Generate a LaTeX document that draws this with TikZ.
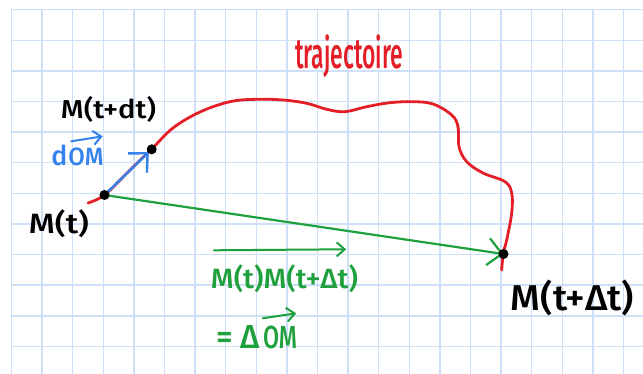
\documentclass[tikz,border=0pt]{standalone}
\usepackage{fontspec}
\setmainfont{Fira Sans}[BoldFont={Fira Sans Medium}]
\usepackage{graphicx}
\usetikzlibrary{arrows.meta,calc}
\definecolor{gridc}{RGB}{205,224,248}
\definecolor{hred}{RGB}{228,30,38}
\definecolor{hblue}{RGB}{52,130,235}
\definecolor{hgreen}{RGB}{30,160,60}
\newcommand{\hw}[3]{\resizebox*{#1pt}{#2pt}{\bfseries #3}}
\begin{document}
\begin{tikzpicture}[x=1pt,y=-1pt, line cap=round, line join=round,
 lbl/.style={inner sep=0pt, anchor=center},
 gridline/.style={draw=gridc, line width=1.4pt},
 dotnode/.style={circle, fill=black, inner sep=0pt, minimum size=10pt},
 bigtip/.style={-{Straight Barb[length=14pt,width=27pt]}},
 smalltip/.style={-{Straight Barb[length=8pt,width=14pt]}},
]
\useasboundingbox[fill=white] (0,0) rectangle (643,374);
\foreach \k in {0,...,20} \draw[gridline] (11.5+30.6*\k,9.8) -- (11.5+30.6*\k,374);
\foreach \k in {0,...,11} \draw[gridline] (11.5,9.8+30.6*\k) -- (643,9.8+30.6*\k);

% trajectory
\draw[hred, line width=2.8pt] plot[smooth, tension=0.6] coordinates {(88,203) (104.5,195) (128,172) (151.7,149) (173,128) (200,112) (230,101.7) (256.7,99.3) (283,100) (306.7,103.3) (326.7,109.3) (345,111.7) (366.7,106.7) (390,102.7) (413,101.7) (433,104) (451.7,115) (458,126.7) (459,146.7) (466.7,161.7) (483,173) (505,181.7) (511.7,193) (511.7,213) (506.7,240) (503.3,253.3) (501.7,270)};

% points
\coordinate (Mt) at (104.5,195);
\coordinate (Mdt) at (151.7,149.3);
\coordinate (MDt) at (503.5,254);
\draw[hgreen, line width=2.2pt, bigtip] (Mt) -- (MDt);
\draw[hblue, line width=2.4pt, bigtip, shorten >=4pt] (Mt) -- (Mdt);
\node[dotnode] (dMt) at (Mt) {};
\node[dotnode] (dMdt) at (Mdt) {};
\node[dotnode] (dMDt) at (MDt) {};

% labels
\node[lbl, hred] (traj) at (349,56.5) {\hw{108}{43}{trajectoire}};
\node[lbl] (ltdt) at (108.5,109.5) {\hw{95}{26}{M(t+dt)}};
\node[lbl] (lt) at (59,223.5) {\hw{60}{28}{M(t)}};
\node[lbl] (lDt) at (572.5,297.5) {\hw{123}{36}{M(t+Δt)}};

\node[lbl, hblue] (ld) at (59.5,155) {\hw{16}{21}{d}};
\node[lbl, hblue] (lom) at (86,156.5) {\hw{35}{18}{OM}};
\draw[hblue, line width=2pt, smalltip] ([shift={(3,-6)}]lom.north west) -- ([shift={(-1,-11)}]lom.north east);

\node[lbl, hgreen] (lmm) at (284.5,278.5) {\hw{147}{28}{M(t)M(t+Δt)}};
\draw[hgreen, line width=2pt, smalltip] ([shift={(3,-14)}]lmm.north west) -- ([shift={(-12,-15)}]lmm.north east);

\node[lbl, hgreen] (leq) at (238,337) {\hw{44}{23}{= Δ}};
\node[lbl, hgreen] (lom2) at (280,337) {\hw{34}{23}{OM}};
\draw[hgreen, line width=2pt, smalltip] ([shift={(0,-7)}]lom2.north west) -- ([shift={(-1,-12)}]lom2.north east);
\end{tikzpicture}
\end{document}
